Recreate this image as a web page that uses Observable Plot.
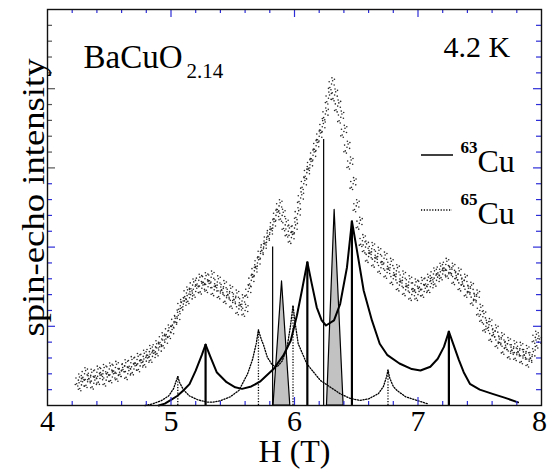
<!DOCTYPE html>
<html><head><meta charset="utf-8">
<script src="https://cdn.jsdelivr.net/npm/d3@7"></script>
<script src="https://cdn.jsdelivr.net/npm/@observablehq/plot@0.6"></script>
<style>html,body{margin:0;padding:0;background:#fff}svg{display:block}</style>
</head><body><div id="chart"></div>
<script>
const expH = [4.25,4.275,4.3,4.325,4.35,4.375,4.4,4.425,4.45,4.475,4.5,4.525,4.55,4.575,4.6,4.625,4.65,4.675,4.7,4.725,4.75,4.775,4.8,4.825,4.85,4.875,4.9,4.925,4.95,4.975,5.0,5.025,5.05,5.075,5.1,5.125,5.15,5.175,5.2,5.225,5.25,5.275,5.3,5.325,5.35,5.375,5.4,5.425,5.45,5.475,5.5,5.525,5.55,5.575,5.6,5.625,5.65,5.675,5.7,5.725,5.75,5.775,5.8,5.825,5.85,5.875,5.9,5.925,5.95,5.975,6.0,6.025,6.05,6.075,6.1,6.125,6.15,6.175,6.2,6.225,6.25,6.275,6.3,6.325,6.35,6.375,6.4,6.425,6.45,6.475,6.5,6.525,6.55,6.575,6.6,6.625,6.65,6.675,6.7,6.725,6.75,6.775,6.8,6.825,6.85,6.875,6.9,6.925,6.95,6.975,7.0,7.025,7.05,7.075,7.1,7.125,7.15,7.175,7.2,7.225,7.25,7.275,7.3,7.325,7.35,7.375,7.4,7.425,7.45,7.475,7.5,7.525,7.55,7.575,7.6,7.625,7.65,7.675,7.7,7.725,7.75,7.775,7.8,7.825,7.85,7.875,7.9,7.925,7.95,7.975];
const expI = [1.6,1.3,2.0,1.5,1.9,1.4,2.1,1.7,2.2,1.6,2.3,1.8,2.4,1.9,2.2,2.5,2.0,2.7,2.3,2.9,2.5,3.1,2.8,3.4,3.1,3.7,3.5,4.2,4.0,4.7,4.6,5.3,5.5,6.3,6.4,7.1,6.8,7.6,7.2,7.9,7.4,8.0,7.5,8.1,7.3,7.8,7.1,7.5,6.8,7.2,6.5,6.9,6.1,6.6,6.0,7.2,7.9,8.5,9.0,9.6,10.0,10.5,10.9,11.4,12.0,12.6,12.0,11.4,11.0,10.6,11.2,12.1,13.1,14.0,14.7,15.2,15.8,16.4,17.0,17.6,18.4,19.4,20.3,19.6,18.9,18.2,17.3,16.3,15.3,14.0,12.6,11.5,10.4,10.0,9.4,9.9,9.1,9.6,8.7,9.3,8.4,8.9,8.0,8.5,7.6,8.1,7.3,7.8,7.0,7.6,7.0,7.7,7.2,7.9,7.5,8.3,7.9,8.6,8.3,8.9,8.4,8.6,8.0,8.3,7.6,7.9,7.2,7.4,6.7,6.9,6.0,5.6,5.0,5.1,4.4,4.7,4.0,4.2,3.6,3.9,3.3,3.7,3.2,3.6,3.0,3.4,2.8,3.2,4.3,4.0];

// 63Cu simulated spectrum (solid)
const cu63H = [4.90,4.95,5.0,5.05,5.1,5.15,5.2,5.25,5.28,5.32,5.37,5.45,5.52,5.575,5.65,5.72,5.83,5.91,5.97,6.02,6.06,6.104,6.14,6.18,6.22,6.255,6.32,6.37,6.425,6.465,6.506,6.56,6.627,6.69,6.75,6.85,6.95,7.02,7.1,7.16,7.21,7.25,7.28,7.33,7.37,7.42,7.5,7.61,7.7,7.81];
const cu63I = [0.0,0.12,0.35,0.6,0.95,1.35,2.2,3.2,3.85,3.05,2.1,1.47,1.15,1.05,1.2,1.5,2.3,3.16,4.1,5.7,7.26,9.05,7.68,6.2,5.37,5.05,5.37,6.42,8.73,11.63,9.78,7.26,5.37,3.9,3.2,2.65,2.3,2.21,2.45,2.95,3.7,4.67,4.0,2.9,2.1,1.37,1.0,0.72,0.5,0.2];

// 65Cu simulated spectrum (dotted)
const cu65H = [4.79,4.85,4.92,4.98,5.02,5.04,5.055,5.07,5.1,5.15,5.22,5.29,5.335,5.4,5.48,5.55,5.62,5.66,5.69,5.708,5.73,5.75,5.78,5.82,5.86,5.9,5.94,5.966,5.988,6.006,6.03,6.1,6.21,6.37,6.45,6.53,6.6,6.68,6.72,6.745,6.757,6.77,6.8,6.83,6.9,7.0,7.08];
const cu65I = [0,0.1,0.3,0.6,1.05,1.5,1.83,1.45,1.0,0.6,0.35,0.22,0.21,0.3,0.55,0.95,2.0,2.9,3.9,4.78,4.2,3.8,3.05,2.55,2.45,2.8,3.68,4.94,6.31,5.16,3.9,2.63,1.58,0.74,0.45,0.32,0.42,0.75,1.2,1.8,2.25,1.75,1.2,0.95,0.55,0.3,0.1];

// stick lines
const stick63H = [5.28, 6.104, 6.465, 7.25];
const stick63I = [3.85, 9.05, 11.63, 4.67];
const thinStickH = [5.823, 6.236];
const thinStickI = [10.0, 16.8];
const stick65H = [5.055, 5.708, 5.988, 6.757];
const stick65I = [1.83, 4.78, 6.31, 2.25];

// shaded narrow lines
const shade1H = [5.83, 5.899, 5.966];
const shade1I = [0, 7.83, 0];
const shade2H = [6.263, 6.325, 6.398];
const shade2I = [0, 12.35, 0];

// ticks
const xTickLabels = [4, 5, 6, 7];
const xLastLabel = [8];
const xMinorTicks = [4.2,4.4,4.6,4.8,5.2,5.4,5.6,5.8,6.2,6.4,6.6,6.8,7.2,7.4,7.6,7.8];
const xMajorTicks = [5, 6, 7];
const yMinorTicks = [1,2,3,4,6,7,8,9,11,12,13,14,16,17,18,19,21,22,23,24];
const yMajorTicks = [5, 10, 15, 20];

const W = 547, H = 469, mL = 47, mR = 6, mT = 9, mB = 64;
const pw = W - mL - mR, ph = H - mT - mB;
const SERIF = "Liberation Serif, Times New Roman, serif";
const BLUE = "#2c2cd8";

const zip = (a, b) => a.map((v, i) => ({x: v, y: b[i]}));
const exp = zip(expH, expI);
const c63 = zip(cu63H, cu63I);
const c65 = zip(cu65H, cu65I);
const s63 = zip(stick63H, stick63I);
const sThin = zip(thinStickH, thinStickI);
const s65 = zip(stick65H, stick65I);
const sh1 = zip(shade1H, shade1I);
const sh2 = zip(shade2H, shade2I);

// pixel offsets used to render each sample as a small cluster of points
const dotOffsets = [[0,0],[1.1,-3.2],[-1.7,3.6],[0.4,-6.1],[-0.6,5.8],[2.6,1.1],[-2.4,-2.2],[2.9,-4.7],[-3.1,4.4]];
const txt = (s, o) => Plot.text([s], {text: d => d, fontFamily: SERIF, fill: "#000", ...o});
const axisOpts = {tickFormat: d3.format("d"), tickSize: 0, tickPadding: 4, fontSize: 30, fontFamily: SERIF, fill: "#000", label: null};

const svg = Plot.plot({
  width: W, height: H,
  marginLeft: mL, marginRight: mR, marginTop: mT, marginBottom: mB,
  style: {fontFamily: SERIF, background: "#fff"},
  x: {domain: [4, 8]},
  y: {domain: [0, 25], axis: null},
  marks: [
    ...dotOffsets.map(([dx, dy]) => Plot.dot(exp, {x: "x", y: "y", r: 0.8, fill: "#262626", stroke: null, dx, dy})),
    Plot.areaY(sh1, {x: "x", y: "y", fill: "#c2c2c2", stroke: "#000", strokeWidth: 1.2}),
    Plot.areaY(sh2, {x: "x", y: "y", fill: "#c2c2c2", stroke: "#000", strokeWidth: 1.2}),
    Plot.line(c65, {x: "x", y: "y", stroke: "#000", strokeWidth: 1.3, strokeDasharray: "1.2,1.6"}),
    Plot.ruleX(s65, {x: "x", y1: 0, y2: "y", stroke: "#000", strokeWidth: 1.3, strokeDasharray: "1.2,1.6"}),
    Plot.ruleX(sThin, {x: "x", y1: 0, y2: "y", stroke: "#000", strokeWidth: 1.2}),
    Plot.ruleX(s63, {x: "x", y1: 0, y2: "y", stroke: "#000", strokeWidth: 2.2}),
    Plot.line(c63, {x: "x", y: "y", stroke: "#000", strokeWidth: 2}),
    // inward ticks on all four sides
    Plot.tickX(xMinorTicks, {x: d => d, insetTop: ph - 4, stroke: BLUE, strokeWidth: 1.2}),
    Plot.tickX(xMajorTicks, {x: d => d, insetTop: ph - 8, stroke: BLUE, strokeWidth: 1.2}),
    Plot.tickX(xMinorTicks, {x: d => d, insetBottom: ph - 4, stroke: BLUE, strokeWidth: 1.2}),
    Plot.tickX(xMajorTicks, {x: d => d, insetBottom: ph - 8, stroke: BLUE, strokeWidth: 1.2}),
    Plot.tickY(yMinorTicks, {y: d => d, insetRight: pw - 5, stroke: d => d >= 15 ? "#555" : BLUE, strokeWidth: 1.2}),
    Plot.tickY(yMajorTicks, {y: d => d, insetRight: pw - 8, stroke: d => d >= 15 ? "#555" : BLUE, strokeWidth: 1.2}),
    Plot.tickY(yMinorTicks, {y: d => d, insetLeft: pw - 5, stroke: BLUE, strokeWidth: 1.2}),
    Plot.tickY(yMajorTicks, {y: d => d, insetLeft: pw - 8, stroke: BLUE, strokeWidth: 1.2}),
    Plot.frame({stroke: "#111", strokeWidth: 1.4}),
    Plot.axisX({ticks: xTickLabels, ...axisOpts}),
    Plot.axisX({ticks: xLastLabel, ...axisOpts, dx: -2}),
    // texts
    txt("H (T)", {frameAnchor: "bottom", dy: 47, lineAnchor: "middle", textAnchor: "middle", fontSize: 31}),
    txt("spin-echo intensity", {frameAnchor: "left", dx: -14, dy: -10, rotate: -90, lineAnchor: "middle", textAnchor: "middle", fontSize: 32}),
    txt("BaCuO", {frameAnchor: "top-left", dx: 36, dy: 58, lineAnchor: "bottom", textAnchor: "start", fontSize: 33}),
    txt("2.14", {frameAnchor: "top-left", dx: 139, dy: 68, lineAnchor: "bottom", textAnchor: "start", fontSize: 21}),
    txt("4.2 K", {frameAnchor: "top-left", dx: 396, dy: 47, lineAnchor: "bottom", textAnchor: "start", fontSize: 30}),
    txt("63", {frameAnchor: "top-left", dx: 413, dy: 143, lineAnchor: "bottom", textAnchor: "start", fontSize: 17, fontWeight: "bold"}),
    txt("Cu", {frameAnchor: "top-left", dx: 430, dy: 162, lineAnchor: "bottom", textAnchor: "start", fontSize: 32}),
    txt("65", {frameAnchor: "top-left", dx: 413, dy: 195, lineAnchor: "bottom", textAnchor: "start", fontSize: 17, fontWeight: "bold"}),
    txt("Cu", {frameAnchor: "top-left", dx: 430, dy: 214, lineAnchor: "bottom", textAnchor: "start", fontSize: 32})
  ]
});

// stretch a few labels to the reference widths
const stretch = {"spin-echo intensity": 278, "H (T)": 72};
d3.select(svg).selectAll("text").each(function() {
  const t = this.textContent;
  if (stretch[t]) d3.select(this).attr("textLength", stretch[t]).attr("lengthAdjust", "spacingAndGlyphs");
});

// legend samples
const g = d3.select(svg).append("g");
g.append("line").attr("x1", 421).attr("x2", 453).attr("y1", 155).attr("y2", 155)
  .attr("stroke", "#000").attr("stroke-width", 1.5);
g.append("line").attr("x1", 421).attr("x2", 452).attr("y1", 210).attr("y2", 210)
  .attr("stroke", "#000").attr("stroke-width", 1.3).attr("stroke-dasharray", "1.2,1.6");

document.getElementById("chart").appendChild(svg);
</script>
</body></html>
